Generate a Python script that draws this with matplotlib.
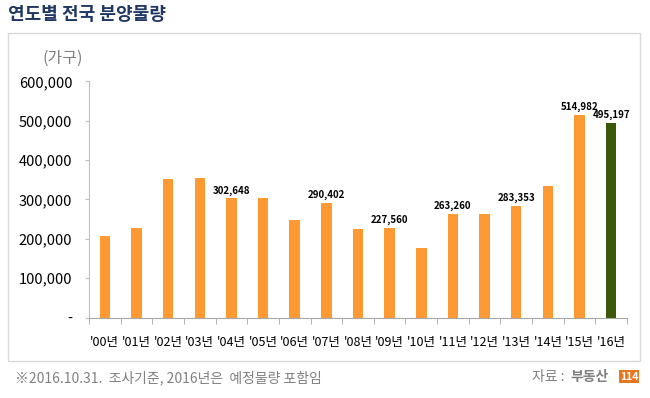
import matplotlib
matplotlib.use("Agg")
import matplotlib.pyplot as plt
from matplotlib.patches import Rectangle
from matplotlib.ticker import FixedLocator, FuncFormatter

plt.rcParams['font.family'] = ['Noto Sans CJK KR', 'DejaVu Sans']

years = ["'00년", "'01년", "'02년", "'03년", "'04년", "'05년", "'06년", "'07년", "'08년",
         "'09년", "'10년", "'11년", "'12년", "'13년", "'14년", "'15년", "'16년"]
values = [207000, 227000, 352000, 355000, 302648, 304000, 247000, 290402, 225000,
          227560, 176000, 263260, 262000, 283353, 334000, 514982, 495197]
labeled = ["'04년", "'07년", "'09년", "'11년", "'13년", "'15년", "'16년"]
yticks = [0, 100000, 200000, 300000, 400000, 500000, 600000]

orange = "#FF9933"
green = "#3A5A0A"

fig = plt.figure(figsize=(6.5, 3.98), dpi=100)
W, H = 650, 398

# outer box
fig.patches.append(Rectangle((8 / W, 1 - 361 / H), (640 - 8) / W, (361 - 33) / H,
                             transform=fig.transFigure, fill=False,
                             edgecolor="#D9D9D9", linewidth=1.0))

ax = fig.add_axes([89 / W, 1 - 317.5 / H, (627 - 89) / W, (317.5 - 81.3) / H])
x = list(range(len(years)))
colors = [orange] * (len(years) - 1) + [green]
ax.bar(x, values, width=0.33, color=colors, zorder=2)

ax.set_xlim(-0.5, len(years) - 0.5)
ax.set_ylim(0, 600000)
for s in ["top", "right"]:
    ax.spines[s].set_visible(False)
ax.spines["left"].set_color("#BFBFBF")
ax.spines["bottom"].set_color("#A6A6A6")

ax.set_yticks(yticks)
ax.yaxis.set_major_formatter(FuncFormatter(lambda v, p: "-" if v == 0 else f"{int(v):,}"))
ax.tick_params(axis="y", length=3, color="#BFBFBF", labelsize=10.5, labelcolor="#000000", pad=9)

ax.set_xticks(x)
ax.set_xticklabels(years)
ax.xaxis.set_minor_locator(FixedLocator([i - 0.5 for i in range(len(years) + 1)]))
ax.tick_params(axis="x", which="major", length=0, labelsize=9, pad=13)
ax.tick_params(axis="x", which="minor", length=4, color="#A6A6A6")

for xi, yr, v in zip(x, years, values):
    if yr in labeled:
        ax.annotate(f"{v:,}", (xi, v), xytext=(0, 2), textcoords="offset points",
                    ha="center", va="bottom", fontsize=7, fontweight="bold", color="#000000")

fig.text(42 / W, 1 - 58 / H, "(가구)", fontsize=11.5, color="#808080", ha="left", va="center")

fig.text(8 / W, 1 - 15 / H, "연도별 전국 분양물량", fontsize=13, fontweight="bold",
         color="#1F3864", ha="left", va="center")

fig.text(15 / W, 1 - 378 / H, "※2016.10.31.  조사기준, 2016년은  예정물량 포함임", fontsize=10,
         color="#808080", ha="left", va="center")
fig.text(532 / W, 1 - 377 / H, "자료 :", fontsize=10, color="#808080", ha="left", va="center")
fig.text(570 / W, 1 - 377 / H, "부동산", fontsize=10, fontweight="bold", color="#7F7F7F",
         ha="left", va="center")
fig.patches.append(Rectangle((619 / W, 1 - 383 / H), 20 / W, 13 / H,
                             transform=fig.transFigure, facecolor="#E8761E", edgecolor="none"))
fig.text(629 / W, 1 - 376.5 / H, "114", fontsize=7.5, fontweight="bold", color="white",
         ha="center", va="center")

fig.savefig("out.png", dpi=100)
